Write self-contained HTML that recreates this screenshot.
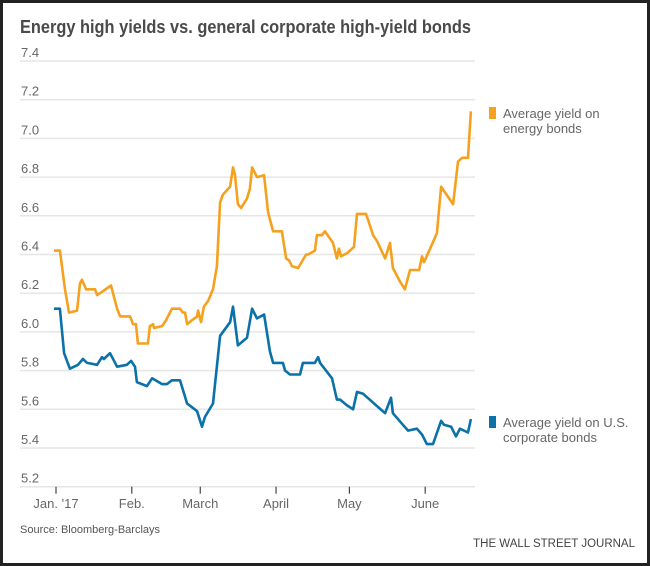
<!DOCTYPE html>
<html><head><meta charset="utf-8"><style>
html,body{margin:0;padding:0;background:#fff}
#wrap{position:relative;width:650px;height:566px;box-sizing:border-box;border:3px solid #222;background:#fff;overflow:hidden;font-family:"Liberation Sans",sans-serif}
svg{position:absolute;left:-3px;top:-3px}
</style></head><body>
<div id="wrap">
<svg id="chart" width="650" height="566"></svg>
</div>
<script>
const yTicks=[7.4,7.2,7.0,6.8,6.6,6.4,6.2,6.0,5.8,5.6,5.4,5.2];
const yTickLabels=["7.4","7.2","7.0","6.8","6.6","6.4","6.2","6.0","5.8","5.6","5.4","5.2"];
const monthDays=[0,31,59,90,120,151];
const monthLabels=["Jan. '17","Feb.","March","April","May","June"];
const energyDays=[-0.8,1.6,3.7,5.3,8.6,9.8,10.6,12.3,16,16.8,18,22.5,25,26.2,30.3,31.5,32.7,33.5,37.6,38.4,39.7,40.1,43.4,45,47.4,50.7,51.9,52.8,53.6,55.6,57.7,58.1,59.3,60.5,62.2,64.2,65.8,67.1,68.3,71.2,72.4,73.2,74.4,75.7,78.1,79.3,80.2,82.2,85.1,86.7,88.8,92.4,94.1,95.3,96.5,99,102.3,103.1,105.9,106.7,108.8,110,113.3,114.9,115.7,116.6,119.4,121.9,123.1,126.8,127.6,129.7,131.3,134.6,136.6,137.8,140.7,142.7,144.8,148.5,149.7,150.5,153,155.8,157.5,162.4,164.4,166.1,168.5,169.7];
const energyYield=[6.42,6.42,6.22,6.10,6.11,6.25,6.27,6.22,6.22,6.19,6.20,6.24,6.12,6.08,6.08,6.04,6.04,5.94,5.94,6.03,6.04,6.02,6.03,6.06,6.12,6.12,6.10,6.10,6.04,6.06,6.08,6.11,6.05,6.13,6.16,6.22,6.34,6.67,6.71,6.75,6.85,6.81,6.66,6.64,6.69,6.74,6.85,6.80,6.81,6.62,6.52,6.52,6.38,6.37,6.34,6.33,6.40,6.40,6.42,6.50,6.50,6.52,6.46,6.38,6.43,6.39,6.41,6.44,6.61,6.61,6.58,6.50,6.47,6.38,6.46,6.33,6.26,6.22,6.32,6.32,6.39,6.36,6.43,6.51,6.75,6.66,6.88,6.90,6.90,7.14];
const corpDays=[-0.8,1.6,3.3,5.7,9,11,12.7,16.8,18.8,19.6,22.1,25,29,30.7,32.3,33.1,37.2,39.3,43.4,45.4,47.4,50.7,53.6,57.7,59.7,60.9,64.2,67.1,71.2,72.4,74.4,78.1,80.2,82.2,85.1,87.5,88.8,92.8,93.7,95.7,99.8,101,105.9,107.2,108,112.9,114.9,116.2,119,121.5,123.1,125.6,134.6,137,137.8,141.9,144,147.6,149.7,151.7,154.2,157.5,158.7,161.6,163.6,165.2,168.5,169.7];
const corpYield=[6.12,6.12,5.89,5.81,5.83,5.86,5.84,5.83,5.87,5.86,5.89,5.82,5.83,5.85,5.82,5.74,5.72,5.76,5.73,5.73,5.75,5.75,5.63,5.59,5.51,5.56,5.63,5.98,6.05,6.13,5.93,5.97,6.12,6.07,6.09,5.90,5.84,5.84,5.80,5.78,5.78,5.84,5.84,5.87,5.84,5.76,5.65,5.65,5.62,5.60,5.69,5.68,5.58,5.66,5.58,5.52,5.49,5.50,5.47,5.42,5.42,5.54,5.52,5.51,5.46,5.50,5.48,5.55];

const NS="http://www.w3.org/2000/svg";
const svg=document.getElementById('chart');
function xS(d){return 56+d*2.445;}
function yS(v){return 61+(7.4-v)*193.5;}
function mk(tag,attrs,parent){const e=document.createElementNS(NS,tag);for(const k in attrs)e.setAttribute(k,attrs[k]);(parent||svg).appendChild(e);return e;}
const F='"Liberation Sans",sans-serif';

let t=mk('text',{x:20,y:33,'font-family':F,'font-size':18,'font-weight':'bold',fill:'#4a4a4a',textLength:451,lengthAdjust:'spacingAndGlyphs'});
t.textContent='Energy high yields vs. general corporate high-yield bonds';



yTicks.forEach((v,i)=>{
  const g=mk('line',{x1:20,x2:475,y1:yS(v),y2:yS(v),stroke:'#e6e6e6','stroke-width':1.5});
  
  
  const l=mk('text',{x:21,y:yS(v)-4,'font-family':F,'font-size':13,fill:'#666'});
  l.textContent=yTickLabels[i];
  
  
});
monthDays.forEach((d,i)=>{
  const tk=mk('line',{x1:xS(d),x2:xS(d),y1:yS(5.2),y2:yS(5.2)+7,stroke:'#444','stroke-width':1.2});
  
  
  const l=mk('text',{x:xS(d),y:508,'text-anchor':'middle','font-family':F,'font-size':13,fill:'#666'});
  l.textContent=monthLabels[i];
  
  
});
function pathD(ds,vs){return ds.map((d,i)=>(i?'L':'M')+xS(d).toFixed(1)+','+yS(vs[i]).toFixed(1)).join(' ');}
const pe=mk('path',{d:pathD(energyDays,energyYield),fill:'none',stroke:'#f5a11f','stroke-width':2.6,'stroke-linejoin':'round'});


const pc=mk('path',{d:pathD(corpDays,corpYield),fill:'none',stroke:'#0a72a8','stroke-width':2.6,'stroke-linejoin':'round'});



function legend(y,color,l1,l2,name){
  const r=mk('rect',{x:489,y:y-6,width:7,height:12,fill:color});
  
  
  const a=mk('text',{x:503,y:y+5,'font-family':F,'font-size':13,fill:'#666'});a.textContent=l1;
  
  
  const b=mk('text',{x:503,y:y+20,'font-family':F,'font-size':13,fill:'#666'});b.textContent=l2;
  
  
}
legend(113,'#f5a11f','Average yield on','energy bonds','legend-energy');
legend(422,'#0a72a8','Average yield on U.S.','corporate bonds','legend-corporate');

const s=mk('text',{x:20,y:533,'font-family':F,'font-size':11,fill:'#555'});
s.textContent='Source: Bloomberg-Barclays';


const w=mk('text',{x:635,y:547,'text-anchor':'end','font-family':F,'font-size':11.5,fill:'#444'});
w.textContent='THE WALL STREET JOURNAL';


</script>
</body></html>
